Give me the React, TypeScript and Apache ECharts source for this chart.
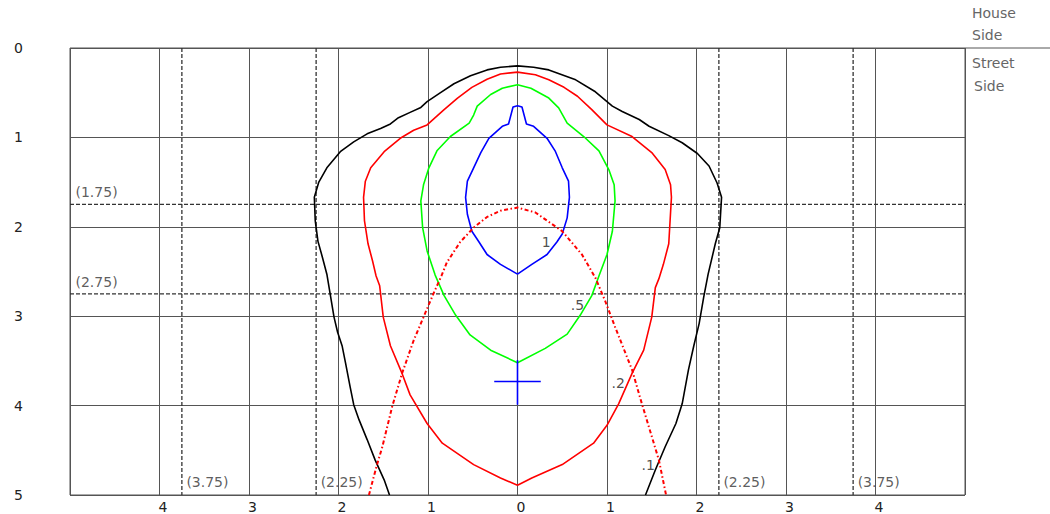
import React, { useEffect, useRef } from 'react';
import * as echarts from 'echarts';

// Axis extents (feet-like units on a luminaire isofootcandle plot)
const X_MIN = -5;
const X_MAX = 5;
const Y_MIN = 0;
const Y_MAX = 5;

// Reference (dashed) lines
const houseRefs = [1.75, 2.75];
const streetRefs = [-3.75, -2.25, 2.25, 3.75];

// Isofootcandle contours [x, y]
const contour01: number[][] = [
  [-1.43, 5.0], [-1.49, 4.83], [-1.59, 4.61], [-1.68, 4.38], [-1.77, 4.16], [-1.83, 3.99], [-1.87, 3.79],
  [-1.92, 3.53], [-1.96, 3.33], [-2.01, 3.18], [-2.05, 3.01], [-2.09, 2.77], [-2.13, 2.53], [-2.18, 2.34],
  [-2.23, 2.16], [-2.26, 1.93], [-2.27, 1.67], [-2.22, 1.5], [-2.13, 1.34], [-1.98, 1.16], [-1.83, 1.05],
  [-1.68, 0.96], [-1.53, 0.9], [-1.42, 0.85], [-1.33, 0.78], [-1.2, 0.72], [-1.08, 0.665], [-1.01, 0.6],
  [-0.86, 0.5], [-0.71, 0.4], [-0.525, 0.31], [-0.34, 0.245], [-0.19, 0.215], [0, 0.2], [0.18, 0.215],
  [0.35, 0.245], [0.65, 0.356], [0.87, 0.49], [1.06, 0.65], [1.17, 0.71], [1.36, 0.8], [1.47, 0.875],
  [1.69, 0.98], [1.84, 1.06], [2.01, 1.18], [2.14, 1.32], [2.23, 1.51], [2.28, 1.67], [2.26, 2.01],
  [2.21, 2.19], [2.13, 2.53], [2.08, 2.79], [2.03, 3.08], [1.97, 3.33], [1.91, 3.6], [1.84, 3.98],
  [1.77, 4.2], [1.65, 4.46], [1.54, 4.72], [1.43, 5.0],
];

const contour02: number[][] = [
  [0, 4.89], [-0.19, 4.81], [-0.49, 4.66], [-0.84, 4.42], [-1.01, 4.2], [-1.2, 3.88], [-1.29, 3.64],
  [-1.42, 3.33], [-1.5, 3.01], [-1.54, 2.66], [-1.58, 2.55], [-1.62, 2.38], [-1.67, 2.19], [-1.71, 1.93],
  [-1.72, 1.67], [-1.7, 1.49], [-1.64, 1.34], [-1.49, 1.16], [-1.31, 1.01], [-1.16, 0.92], [-1.01, 0.86],
  [-0.82, 0.69], [-0.67, 0.56], [-0.51, 0.44], [-0.34, 0.35], [-0.19, 0.29], [0, 0.27], [0.2, 0.3],
  [0.35, 0.356], [0.52, 0.44], [0.67, 0.54], [0.83, 0.69], [1.0, 0.86], [1.28, 0.99], [1.5, 1.17],
  [1.65, 1.36], [1.71, 1.53], [1.72, 1.67], [1.69, 2.19], [1.63, 2.42], [1.58, 2.58], [1.54, 2.68],
  [1.5, 3.01], [1.41, 3.38], [1.28, 3.64], [1.13, 3.98], [1.0, 4.22], [0.85, 4.42], [0.5, 4.66],
  [0.16, 4.81], [0, 4.89],
];

const contour05: number[][] = [
  [0, 3.52], [-0.3, 3.38], [-0.53, 3.21], [-0.69, 2.99], [-0.82, 2.77], [-0.92, 2.54], [-1.01, 2.27],
  [-1.06, 2.01], [-1.08, 1.71], [-1.05, 1.53], [-0.99, 1.34], [-0.9, 1.15], [-0.75, 0.99], [-0.54, 0.84],
  [-0.49, 0.75], [-0.45, 0.65], [-0.3, 0.52], [-0.17, 0.45], [0, 0.41], [0.15, 0.45], [0.35, 0.56],
  [0.46, 0.67], [0.555, 0.84], [0.74, 0.99], [0.91, 1.15], [1.02, 1.36], [1.08, 1.53], [1.09, 1.71],
  [1.06, 2.05], [1.0, 2.31], [0.91, 2.55], [0.83, 2.77], [0.7, 2.99], [0.555, 3.2], [0.31, 3.36], [0, 3.52],
];

const contour1: number[][] = [
  [0, 2.53], [-0.19, 2.42], [-0.34, 2.31], [-0.43, 2.17], [-0.51, 2.05], [-0.56, 1.86], [-0.58, 1.67],
  [-0.56, 1.49], [-0.49, 1.34], [-0.41, 1.17], [-0.32, 1.01], [-0.17, 0.876], [-0.1, 0.85], [-0.05, 0.66],
  [0, 0.645], [0.05, 0.66], [0.1, 0.85], [0.18, 0.876], [0.33, 1.01], [0.42, 1.15], [0.5, 1.34],
  [0.57, 1.49], [0.58, 1.67], [0.555, 1.9], [0.5, 2.08], [0.44, 2.17], [0.33, 2.31], [0.16, 2.42], [0, 2.53],
];

// Maximum candlepower trace (dash-dot)
const traceCurve: number[][] = [
  [-1.66, 5.0], [-1.575, 4.68], [-1.51, 4.46], [-1.4, 4.01], [-1.29, 3.64], [-1.16, 3.27], [-1.05, 3.01],
  [-0.94, 2.75], [-0.85, 2.55], [-0.79, 2.4], [-0.64, 2.17], [-0.49, 2.01], [-0.34, 1.89], [-0.19, 1.82],
  [0, 1.785], [0.2, 1.84], [0.5, 2.05], [0.72, 2.31], [0.87, 2.57], [0.98, 2.83], [1.09, 3.12],
  [1.28, 3.6], [1.39, 3.98], [1.58, 4.61], [1.66, 5.0],
];

// Luminaire position marker
const markerX = 0;
const markerY = 3.73;
const markerHalfW = 0.26;
const markerTop = 3.49;
const markerBottom = 3.99;

// Contour labels
const contourLabels = ['1', '.5', '.2', '.1'];
const contourLabelX = [0.32, 0.67, 1.125, 1.46];
const contourLabelY = [2.17, 2.87, 3.745, 4.67];

const FONT = 'DejaVu Sans';

export default function App() {
  const ref = useRef<HTMLDivElement>(null);

  useEffect(() => {
    if (!ref.current) return;
    const chart = echarts.init(ref.current, null, { renderer: 'svg' });

    const series: any[] = [];

    houseRefs.forEach((v) => {
      series.push({
        type: 'line', silent: true, symbol: 'none', z: 3,
        data: [[X_MIN, v], [X_MAX, v]],
        lineStyle: { color: '#333', width: 1.3, type: [4, 2] },
      });
    });
    streetRefs.forEach((v) => {
      series.push({
        type: 'line', silent: true, symbol: 'none', z: 3,
        data: [[v, Y_MIN], [v, Y_MAX]],
        lineStyle: { color: '#333', width: 1.3, type: [4, 2] },
      });
    });

    const contourDefs: [number[][], string][] = [
      [contour01, '#000000'],
      [contour02, '#ff0000'],
      [contour05, '#00ff00'],
      [contour1, '#0000ff'],
    ];
    contourDefs.forEach(([d, c]) => {
      series.push({
        type: 'line', silent: true, symbol: 'none', z: 5,
        data: d,
        lineStyle: { color: c, width: 1.6 },
      });
    });

    series.push({
      type: 'line', silent: true, symbol: 'none', z: 6,
      data: traceCurve,
      lineStyle: { color: '#ff0000', width: 2, type: [4, 2.5, 1.5, 2.5] },
    });

    series.push({
      type: 'line', silent: true, symbol: 'none', z: 6,
      data: [[markerX - markerHalfW, markerY], [markerX + markerHalfW, markerY]],
      lineStyle: { color: '#0000ff', width: 1.6 },
    });
    series.push({
      type: 'line', silent: true, symbol: 'none', z: 6,
      data: [[markerX, markerTop], [markerX, markerBottom]],
      lineStyle: { color: '#0000ff', width: 1.6 },
    });

    const textStyle = { color: '#333', fontSize: 14, fontFamily: FONT };

    series.push({
      type: 'scatter', silent: true, symbolSize: 1, z: 7,
      itemStyle: { color: 'rgba(0,0,0,0)' },
      data: houseRefs.map((v) => [X_MIN, v]),
      label: {
        show: true, position: 'right', distance: 5, offset: [0, -12], ...textStyle,
        formatter: (p: any) => `(${p.value[1].toFixed(2)})`,
      },
    });
    series.push({
      type: 'scatter', silent: true, symbolSize: 1, z: 7,
      itemStyle: { color: 'rgba(0,0,0,0)' },
      data: streetRefs.map((v) => [v, Y_MAX]),
      label: {
        show: true, position: 'right', distance: 4, offset: [0, -13], ...textStyle,
        formatter: (p: any) => `(${Math.abs(p.value[0]).toFixed(2)})`,
      },
    });
    series.push({
      type: 'scatter', silent: true, symbolSize: 1, z: 7,
      itemStyle: { color: 'rgba(0,0,0,0)' },
      data: contourLabels.map((t, i) => ({ value: [contourLabelX[i], contourLabelY[i]], name: t })),
      label: {
        show: true, position: 'inside', ...textStyle, color: '#222',
        formatter: (p: any) => p.name,
      },
    });

    chart.setOption({
      animation: false,
      grid: {
        left: 70, top: 48, right: 85, bottom: 17,
        show: true, borderColor: '#555', borderWidth: 1, backgroundColor: 'transparent',
      },
      xAxis: {
        type: 'value', min: X_MIN, max: X_MAX, interval: 1,
        axisLine: { show: false }, axisTick: { show: false },
        splitLine: { show: true, lineStyle: { color: '#555', width: 1 } },
        axisLabel: {
          margin: 5, color: '#222', fontSize: 14, fontFamily: FONT, padding: [0, 0, 0, 7],
          showMinLabel: false, showMaxLabel: false,
          formatter: (v: number) => String(Math.abs(v)),
        },
      },
      yAxis: {
        type: 'value', inverse: true, min: Y_MIN, max: Y_MAX, interval: 1,
        axisLine: { show: false }, axisTick: { show: false },
        splitLine: { show: true, lineStyle: { color: '#555', width: 1 } },
        axisLabel: { margin: 47, color: '#222', fontSize: 14, fontFamily: FONT },
      },
      graphic: [
        { type: 'line', shape: { x1: 965, y1: 48, x2: 1050, y2: 48 }, style: { stroke: '#555', lineWidth: 1 }, silent: true },
        { type: 'text', x: 972, y: 13, style: { text: 'House', fill: '#666', fontSize: 14, fontFamily: FONT, verticalAlign: 'middle' } },
        { type: 'text', x: 972, y: 35, style: { text: 'Side', fill: '#666', fontSize: 14, fontFamily: FONT, verticalAlign: 'middle' } },
        { type: 'text', x: 972, y: 63, style: { text: 'Street', fill: '#666', fontSize: 14, fontFamily: FONT, verticalAlign: 'middle' } },
        { type: 'text', x: 974, y: 86, style: { text: 'Side', fill: '#666', fontSize: 14, fontFamily: FONT, verticalAlign: 'middle' } },
      ],
      series,
    });

    return () => chart.dispose();
  }, []);

  return (
    <div
      ref={ref}
      style={{ position: 'fixed', left: 0, top: 0, width: 1050, height: 514, background: '#fff' }}
    />
  );
}
